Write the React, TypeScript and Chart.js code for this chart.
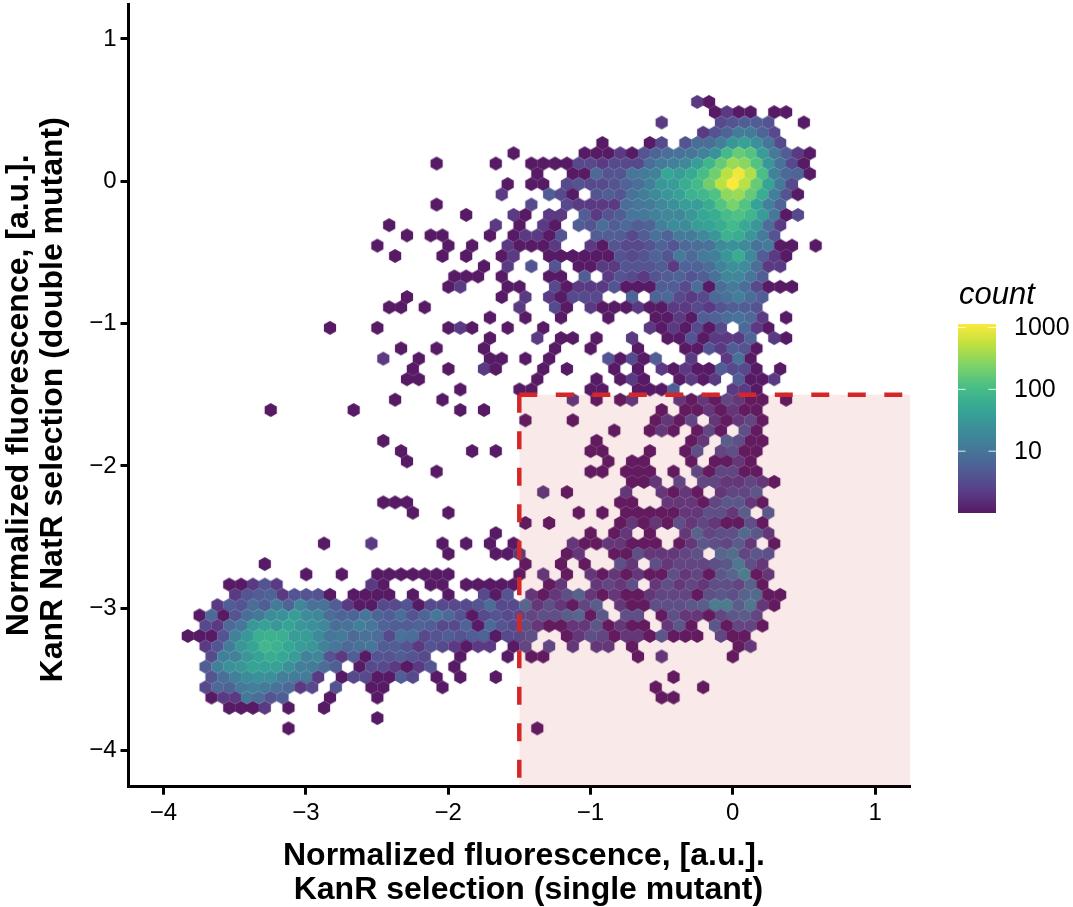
import React, { useEffect, useRef } from "react";
import { Chart, registerables } from "chart.js";

Chart.register(...registerables);

// Hexbin grid (data units). Odd rows hold column 0 at x = 0.
const binWidth = 0.08325;
const binRowHeight = 0.07215;
const topRowY = 0.0527; // y of row 0
const evenRowShift = 0.0416;

// Each row: runs of [first column, count, count, ...]
const rowM7 = [[-3, 2, 1]];
const rowM6 = [[-2, 1, 2, 1, 1], [3, 1, 1]];
const rowM5 = [[-6, 2], [-1, 3, 4, 5, 5, 4], [6, 1]];
const rowM4 = [[-3, 2, 4, 6, 12, 12, 6, 3]];
const rowM3 = [[-11, 1], [-7, 1, 3], [-4, 4, 8, 8, 14, 30, 40, 25, 10, 3]];
const rowM2 = [[-19, 1], [-13, 1, 1, 1, 2, 1, 4, 6, 8, 9, 10, 15, 25, 90, 170, 130, 35, 12, 5, 2, 1]];
const rowM1 = [[-25, 1], [-20, 1], [-17, 1, 1, 1, 1, 3, 3, 2, 3, 3, 3, 8, 12, 14, 18, 35, 80, 170, 350, 280, 130, 30, 9, 3, 1]];
const row0 = [[-17, 1], [-14, 1, 1, 7, 4, 4, 10, 12, 15, 50, 35, 55, 100, 200, 500, 950, 450, 110, 15, 7, 6, 1]];
const row1 = [[-19, 1], [-17, 1, 1], [-14, 3, 4, 3, 3, 4, 6, 8, 14, 30, 35, 60, 90, 200, 500, 1100, 500, 170, 45, 11, 3]];
const row2 = [[-20, 2], [-16, 5, 3, 1], [-12, 4, 5, 4, 9, 13, 20, 30, 40, 70, 85, 120, 300, 350, 170, 60, 14, 4, 1]];
const row3 = [[-25, 1], [-17, 3], [-14, 3, 2, 2, 2, 2, 8, 10, 12, 18, 25, 35, 35, 60, 130, 230, 130, 45, 14, 6]];
const row4 = [[-23, 1], [-19, 2, 1], [-16, 2, 2], [-13, 5, 2, 4, 5, 10, 11, 15, 18, 18, 30, 50, 60, 100, 120, 80, 35, 11, 1, 3]];
const row5 = [[-29, 1], [-20, 2], [-18, 1], [-16, 2, 1], [-13, 5, 4, 8, 5, 7, 5, 6, 14, 22, 20, 35, 45, 60, 90, 55, 30, 8, 2]];
const row6 = [[-28, 1], [-26, 1, 1], [-21, 1], [-19, 1, 2, 2, 1, 4], [-12, 5, 5, 5, 3, 5, 9, 6, 12, 12, 18, 30, 70, 60, 30, 12, 4]];
const row7 = [[-30, 1], [-24, 1], [-22, 1], [-19, 2, 1, 1, 1, 2], [-12, 2, 1, 4, 3, 3, 4, 6, 4, 7, 8, 9, 20, 25, 20, 9, 12, 1, 1], [7, 1]];
const row8 = [[-29, 1], [-25, 1], [-23, 1], [-20, 1, 2], [-16, 1, 1, 1, 1, 1, 1, 4, 3, 4, 6, 4, 12, 7, 12, 14, 30, 60, 20, 5, 2, 1]];
const row9 = [[-21, 1], [-19, 2], [-17, 4], [-15, 4], [-13, 1, 1, 2, 2, 4, 4, 4, 5, 2, 6, 6, 8, 16, 25, 22, 8, 2, 2]];
const row10 = [[-24, 1, 1, 1], [-20, 1], [-16, 1, 1], [-13, 5], [-11, 2, 4, 3, 2, 4, 5, 6, 4, 5, 9, 18, 18, 10, 5]];
const row11 = [[-24, 1, 2], [-19, 1, 1], [-15, 3, 1, 2, 2, 2, 4, 1, 1, 1, 5, 5, 3, 8, 1, 8, 12, 8, 3, 1, 1, 1]];
const row12 = [[-28, 1], [-20, 1], [-18, 2], [-16, 2, 1, 3, 3, 3], [-9, 6], [-7, 6, 7, 3, 2, 3, 7, 9, 14, 8, 5]];
const row13 = [[-29, 1, 1], [-26, 1], [-18, 2], [-15, 3, 1], [-12, 2, 1, 1, 1, 2, 1, 1, 2, 2, 3, 2, 4, 5, 5, 4]];
const row14 = [[-21, 1], [-18, 1], [-15, 1], [-11, 1], [-7, 1, 1, 2, 1, 5, 6, 8, 9, 7, 2], [4, 1]];
const row15 = [[-34, 1], [-30, 1], [-24, 1, 2, 1], [-19, 1], [-16, 1], [-7, 2, 1, 2, 1, 3, 1, 3], [1, 7, 2, 1]];
const row16 = [[-21, 1], [-17, 2], [-15, 1, 1], [-12, 1], [-9, 2], [-6, 1, 1, 4, 1, 2, 2, 2, 6], [3, 2, 1]];
const row17 = [[-28, 1], [-25, 1], [-21, 1], [-15, 1], [-12, 1], [-8, 1], [-4, 1, 1, 4, 2, 5, 4, 1]];
const row18 = [[-30, 2], [-27, 1], [-21, 1, 1], [-18, 1], [-16, 1], [-11, 4, 1, 3, 1, 5], [-4, 2], [-1, 2, 9, 1]];
const row19 = [[-27, 1], [-24, 1], [-21, 2, 1], [-16, 1], [-14, 1], [-10, 1], [-8, 1], [-6, 2, 1, 2, 1, 1, 5, 3, 3, 1], [4, 1]];
const row20 = [[-28, 1, 1], [-17, 1], [-12, 1], [-10, 1, 2, 1], [-5, 1, 2, 1, 2], [0, 5, 1, 1, 2]];
const row21 = [[-23, 1], [-18, 1, 1], [-12, 1, 1], [-8, 1, 1, 1, 5], [0, 2, 2, 1]];
const row22 = [[-29, 1], [-25, 1], [-14, 2], [-12, 1], [-10, 1, 2], [-5, 2, 1, 2, 1, 3, 2, 1, 1], [4, 1]];
const row23 = [[-39, 1], [-32, 1], [-23, 1], [-21, 1], [-6, 1], [-4, 1, 1, 2, 1, 2, 1, 1]];
const row24 = [[-18, 1], [-14, 1], [-7, 1, 2, 1, 3], [-2, 2, 1, 2, 3, 1]];
const row25 = [[-10, 1], [-7, 1, 2, 1], [-3, 1, 3, 1], [1, 4, 1]];
const row26 = [[-30, 1], [-12, 1], [-4, 1, 2], [-1, 6, 4, 1, 1]];
const row27 = [[-28, 1], [-22, 1], [-20, 1], [-12, 1, 1], [-7, 1], [-4, 1, 4], [-1, 3, 4, 1, 1]];
const row28 = [[-28, 1], [-11, 1], [-9, 1, 1], [-4, 1], [-2, 1, 1, 2, 1]];
const row29 = [[-25, 1], [-12, 1, 1], [-9, 1, 1, 1], [-5, 1], [-3, 3, 1, 3, 3, 1, 1]];
const row30 = [[-9, 1, 1, 2], [-5, 3], [-3, 3, 3, 2, 2, 3, 2, 1]];
const row31 = [[-16, 2], [-14, 1], [-9, 2], [-6, 2, 1, 2, 1], [-1, 2, 3, 3, 5]];
const row32 = [[-30, 1, 1, 1], [-10, 1, 1], [-6, 2, 2, 2, 1, 3, 5, 5, 2, 1]];
const row33 = [[-27, 1], [-24, 1], [-13, 1], [-11, 1], [-9, 1, 1, 1, 1, 1, 2, 2, 4, 4, 2, 6], [3, 5]];
const row34 = [[-18, 1], [-16, 1], [-10, 1, 2, 1, 2, 1, 4, 2, 3, 2, 1, 1, 4, 1]];
const row35 = [[-20, 1], [-12, 1], [-10, 1, 2], [-7, 1], [-4, 2, 7, 3, 4, 4, 9, 5, 2]];
const row36 = [[-35, 1], [-31, 2], [-25, 1], [-23, 1], [-21, 1], [-19, 1], [-14, 2, 1, 1, 2, 2, 1, 1, 1], [-5, 1, 2, 5, 4, 3, 6, 2], [3, 1]];
const row37 = [[-24, 1], [-20, 1, 1, 2], [-14, 1, 2], [-10, 1, 1, 4, 2, 2, 2, 3, 4], [-1, 8, 10, 3, 5, 4]];
const row38 = [[-40, 1], [-18, 1], [-15, 1], [-13, 1], [-10, 4, 2], [-7, 4, 2, 3, 3, 3, 4, 5, 15, 4, 2]];
const row39 = [[-36, 1], [-33, 1], [-30, 1, 1, 1, 1, 1, 1, 1], [-18, 1], [-16, 2], [-14, 1], [-12, 2, 1, 2, 1, 2, 1, 1, 4, 2, 3, 1, 5, 8, 18, 1, 2]];
const row40 = [[-43, 1, 1, 2, 4, 2], [-31, 2, 1], [-26, 1, 1], [-23, 1, 1, 1, 1, 1], [-16, 1, 2], [-12, 2, 3, 2, 4], [-7, 2, 4, 2, 3, 2, 4, 4, 3, 7, 1]];
const row41 = [[-42, 2, 4, 5, 6, 2, 4, 4, 4, 1], [-32, 1, 1, 1, 1], [-27, 1], [-24, 1], [-21, 3, 1, 4], [-17, 2, 1, 2, 4, 7, 2, 1, 2, 1, 1, 2, 3, 3, 3, 1, 4, 5, 4, 7, 9, 1, 1]];
const row42 = [[-44, 2, 5, 4, 8, 5, 12, 6, 18, 9, 9, 5, 2, 1, 1, 3, 3, 4, 1, 3, 3, 3, 3, 4, 8, 3, 3, 8, 2, 4, 2, 1, 3, 6], [-10, 2, 1, 1, 4, 4, 4, 5, 6, 17, 17, 6, 14, 2, 1]];
const row43 = [[-45, 1, 7, 1, 4, 8, 11, 22, 25, 35, 22, 18, 8, 6, 6, 10, 6, 5, 8, 4, 6, 10, 7, 4, 1, 3, 4, 3, 3, 3, 4, 4, 6, 8, 1, 5], [-9, 4, 4], [-6, 1, 4, 2, 2, 1, 3, 5, 6, 3]];
const row44 = [[-45, 3, 2, 7, 10, 30, 40, 30, 45, 30, 25, 18, 8, 9, 14, 10, 6, 5, 5, 6, 5, 3, 3, 6, 1, 7, 4, 3, 4, 2, 1, 1, 2, 2, 5, 1, 2, 1, 1], [-6, 2, 5, 1], [-2, 5, 1, 3, 3, 1]];
const row45 = [[-46, 1, 1, 1, 4, 15, 30, 65, 70, 65, 35, 35, 22, 10, 12, 7, 9, 8, 3, 9, 8, 3, 4, 5, 4, 5, 6, 1, 3, 3, 4], [-14, 1, 2, 4, 3, 1, 2, 2, 1, 5, 1, 1, 1], [-1, 3, 1, 1]];
const row46 = [[-45, 2, 4, 12, 30, 45, 85, 70, 50, 35, 30, 15, 10, 7, 9, 10, 5, 5, 4, 2, 4, 3, 2, 1, 2, 2], [-19, 1, 3], [-16, 3], [-14, 2], [-12, 2, 2], [-9, 1], [0, 1, 2]];
const row47 = [[-44, 3, 14, 15, 30, 45, 60, 50, 35, 15, 18, 4, 2, 5, 1, 4, 4, 5, 4, 3], [-23, 1], [-19, 1], [-17, 1, 1], [-8, 1], [-6, 2], [0, 1]];
const row48 = [[-45, 5, 14, 25, 30, 45, 40, 40, 25, 14, 12, 8, 5], [-32, 1, 3, 3, 2, 1, 2, 4], [-24, 1]];
const row49 = [[-44, 4, 8, 14, 22, 25, 25, 14, 12, 12, 2], [-33, 1, 3, 3, 1, 1, 5, 3], [-25, 1], [-23, 1], [-20, 1], [-5, 1]];
const row50 = [[-45, 3, 7, 6, 12, 14, 12, 9, 7, 2, 3], [-34, 4], [-31, 1, 1], [-25, 1], [-7, 1], [-3, 1]];
const row51 = [[-44, 1, 2, 2, 11, 8, 4, 5], [-34, 1], [-30, 1], [-6, 1, 1]];
const row52 = [[-43, 1, 1, 1, 2], [-38, 1], [-35, 1]];
const row53 = [[-30, 1]];
const row54 = [[-38, 1], [-17, 1]];

const hexRows = [
  rowM7, rowM6, rowM5, rowM4, rowM3, rowM2, rowM1, row0, row1, row2, row3, row4, row5, row6, row7, row8,
  row9, row10, row11, row12, row13, row14, row15, row16, row17, row18, row19, row20, row21, row22, row23,
  row24, row25, row26, row27, row28, row29, row30, row31, row32, row33, row34, row35, row36, row37, row38,
  row39, row40, row41, row42, row43, row44, row45, row46, row47, row48, row49, row50, row51, row52, row53, row54,
];
const firstRowIndex = -7;

const xLimits = [-4.246, 1.249];
const yLimits = [-4.2532, 1.2456];
const axisTicks = [-4, -3, -2, -1, 0, 1];
const cutoff = -1.5;

const colourbarTicks = [10, 100, 1000];
const colourbarMax = 1140;
const viridis = ["#440154", "#482878", "#3e4989", "#31688e", "#26828e", "#1f9e89", "#35b779", "#6ece58", "#b5de2b", "#fde725"];

function hexToRgb(h: string) {
  return [1, 3, 5].map((i) => parseInt(h.slice(i, i + 2), 16));
}
function colourFor(count: number) {
  const t = Math.min(1, Math.log10(Math.max(count, 1)) / Math.log10(colourbarMax));
  const p = t * (viridis.length - 1);
  const i = Math.min(viridis.length - 2, Math.floor(p));
  const f = p - i;
  const a = hexToRgb(viridis[i]);
  const b = hexToRgb(viridis[i + 1]);
  // The reference paints hexes at 90% opacity on white; blend here so neighbours do not show seams.
  const c = a.map((v, k) => Math.round((v + (b[k] - v) * f) * 0.9 + 255 * 0.1));
  return `rgb(${c[0]},${c[1]},${c[2]})`;
}

const hexCache = new Map<number, HTMLCanvasElement>();
function hexImage(count: number) {
  let cv = hexCache.get(count);
  if (cv) return cv;
  cv = document.createElement("canvas");
  cv.width = 16;
  cv.height = 18;
  const g = cv.getContext("2d")!;
  const hw = 6.1;
  const r = 7.0;
  g.fillStyle = colourFor(count);
  g.beginPath();
  g.moveTo(8, 9 - r);
  g.lineTo(8 + hw, 9 - r / 2);
  g.lineTo(8 + hw, 9 + r / 2);
  g.lineTo(8, 9 + r);
  g.lineTo(8 - hw, 9 + r / 2);
  g.lineTo(8 - hw, 9 - r / 2);
  g.closePath();
  g.fill();
  hexCache.set(count, cv);
  return cv;
}

function buildCells() {
  const cells: { x: number; y: number; count: number }[] = [];
  hexRows.forEach((runs, k) => {
    const r = firstRowIndex + k;
    const shift = r % 2 === 0 ? evenRowShift : 0;
    runs.forEach((run) => {
      for (let i = 1; i < run.length; i++) {
        cells.push({
          x: (run[0] + i - 1) * binWidth + shift,
          y: topRowY - r * binRowHeight,
          count: run[i],
        });
      }
    });
  });
  return cells;
}

const colourbarPlugin = {
  id: "colourbar",
  afterDraw(chart: any) {
    const ctx = chart.ctx;
    const [x0, x1, y0, y1] = [958, 996, 324, 513];
    ctx.save();
    const grad = ctx.createLinearGradient(0, y1, 0, y0);
    viridis.forEach((c, i) => grad.addColorStop(i / (viridis.length - 1), c));
    ctx.globalAlpha = 0.9;
    ctx.fillStyle = grad;
    ctx.fillRect(x0, y0, x1 - x0, y1 - y0);
    ctx.globalAlpha = 1;
    ctx.fillStyle = "#000";
    ctx.font = "italic 31px 'Liberation Sans'";
    ctx.textBaseline = "alphabetic";
    ctx.textAlign = "left";
    ctx.fillText("count", x0 + 1, 304);
    ctx.font = "25px 'Liberation Sans'";
    ctx.textBaseline = "middle";
    colourbarTicks.forEach((v) => {
      const y = y1 - (Math.log10(v) / Math.log10(colourbarMax)) * (y1 - y0);
      ctx.strokeStyle = "rgba(255,255,255,0.85)";
      ctx.lineWidth = 1;
      ctx.beginPath();
      ctx.moveTo(x0, y);
      ctx.lineTo(x0 + 7.6, y);
      ctx.moveTo(x1 - 7.6, y);
      ctx.lineTo(x1, y);
      ctx.stroke();
      ctx.fillText(String(v), 1014, y + 1);
    });
    ctx.restore();
  },
};

const fmt = (v: number | string) => String(v).replace("-", "\u2212");
const noOverhang = (s: any) => {
  s.paddingTop = 0;
  s.paddingBottom = 0;
  s.paddingLeft = 0;
  s.paddingRight = 0;
};

export default function App() {
  const ref = useRef<HTMLCanvasElement>(null);
  useEffect(() => {
    document.body.style.margin = "0";
    const chart = new Chart(ref.current!, {
      type: "scatter",
      data: {
        datasets: [
          {
            label: "vertical cutoff",
            type: "line",
            data: [{ x: cutoff, y: cutoff }, { x: cutoff, y: yLimits[0] }],
            borderColor: "#d62728",
            borderWidth: 4.5,
            borderDash: [18, 18.5],
            pointRadius: 0,
            fill: false,
            order: 1,
          },
          {
            label: "horizontal cutoff",
            type: "line",
            data: [{ x: cutoff, y: cutoff }, { x: xLimits[1], y: cutoff }],
            borderColor: "#d62728",
            borderWidth: 4.5,
            borderDash: [18, 18.5],
            pointRadius: 0,
            fill: false,
            order: 1,
          },
          {
            label: "selected region",
            type: "line",
            data: [{ x: cutoff, y: cutoff }, { x: xLimits[1], y: cutoff }],
            borderWidth: 0,
            pointRadius: 0,
            backgroundColor: "rgba(200,40,40,0.1)",
            fill: "start",
            order: 2,
          },
          {
            label: "count",
            data: buildCells(),
            pointStyle: (c: any) => hexImage(c.raw.count),
            pointRadius: 7,
            order: 3,
          },
        ] as any,
      },
      options: {
        animation: false,
        responsive: false,
        events: [],
        layout: { autoPadding: false, padding: { left: 0, right: 162.5, top: 4, bottom: 0 } },
        plugins: { legend: { display: false }, tooltip: { enabled: false } },
        scales: {
          x: {
            type: "linear",
            min: xLimits[0],
            max: xLimits[1],
            afterBuildTicks: (s: any) => { s.ticks = axisTicks.map((value) => ({ value })); },
            afterFit: (s: any) => { s.height = 120.3; noOverhang(s); },
            ticks: { callback: fmt, font: { family: "'Liberation Sans'", size: 24 }, color: "#000", maxRotation: 0, padding: 4 },
            grid: { drawOnChartArea: false, drawTicks: true, tickLength: 8, tickWidth: 3, tickColor: "#000" },
            border: { display: true, color: "#000", width: 3 },
            title: {
              display: true,
              text: [" Normalized fluorescence, [a.u.].", "  KanR selection (single mutant)"],
              font: { family: "'Liberation Sans'", size: 32, weight: "bold", lineHeight: 1.06 },
              color: "#000",
              padding: { top: 5, bottom: 0 },
            },
          },
          y: {
            type: "linear",
            min: yLimits[0],
            max: yLimits[1],
            afterBuildTicks: (s: any) => { s.ticks = axisTicks.map((value) => ({ value })); },
            afterFit: (s: any) => { s.width = 128.5; noOverhang(s); },
            ticks: { callback: fmt, font: { family: "'Liberation Sans'", size: 24 }, color: "#000", padding: 4 },
            grid: { drawOnChartArea: false, drawTicks: true, tickLength: 8, tickWidth: 3, tickColor: "#000" },
            border: { display: true, color: "#000", width: 3 },
            title: {
              display: true,
              text: ["Normalized fluorescence, [a.u.].", "KanR NatR selection (double mutant) "],
              font: { family: "'Liberation Sans'", size: 32, weight: "bold", lineHeight: 1.06 },
              color: "#000",
              padding: { top: 2, bottom: 0 },
            },
          },
        },
      } as any,
      plugins: [colourbarPlugin],
    });
    return () => chart.destroy();
  }, []);
  return (
    <canvas
      ref={ref}
      width={1073}
      height={907}
      style={{ position: "absolute", left: 0, top: 0, width: 1073, height: 907, background: "#fff" }}
    />
  );
}
